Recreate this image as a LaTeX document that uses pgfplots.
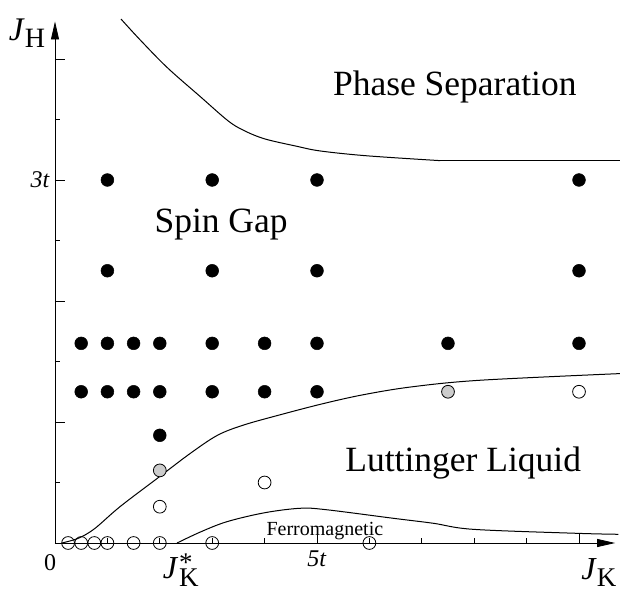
\documentclass[border=0pt]{standalone}
\usepackage{pgfplots}
\pgfplotsset{compat=1.18}
\usepackage{fontspec}
\setmainfont{Liberation Serif}
\usetikzlibrary{arrows.meta}
\begin{document}
\begin{tikzpicture}
\begin{axis}[
  at={(0,0)}, anchor=south west,
  x=52.4pt, y=121pt,
  xmin=0, xmax=10.69, ymin=0, ymax=4.31,
  axis lines=left,
  axis line style={line width=0.8pt},
  x axis line style={-{Triangle[length=18pt,width=8pt]}},
  y axis line style={-{Triangle[length=18pt,width=8pt]}},
  clip=false,
  xtick={5,10}, minor xtick={1,2,3,4,6,7,8,9},
  ytick={1,2,3,4}, minor ytick={0.5,1.5,2.5,3.5},
  xticklabels={\textit{5t},{}},
  yticklabels={{},{},\textit{3t},{}},
  tick align=inside,
  major tick length=10pt, minor tick length=5pt,
  tick style={black, line width=0.8pt},
  minor tick style={black, line width=0.8pt},
  tick label style={font=\fontsize{24}{28}\selectfont},
  xticklabel style={yshift=-4pt},
  yticklabel style={inner sep=0pt, xshift=-5pt},
]
% boundaries
\addplot[black, line width=1pt, smooth, tension=0.55] coordinates {
 (1.26,4.33) (1.62,4.16) (2.14,3.93) (2.77,3.69) (3.3,3.49) (3.6,3.41)
 (4.0,3.34) (4.6,3.28) (5.06,3.24) (5.95,3.20) (7.35,3.16)};
\addplot[black, line width=1pt] coordinates {(7.35,3.16) (10.78,3.16)};
\addplot[black, line width=1pt, smooth, tension=0.55] coordinates {
 (0.13,0) (0.45,0.04) (0.76,0.12) (1.24,0.30) (2.0,0.55) (2.58,0.74) (3.1,0.89)
 (3.6,0.975) (4.3,1.06) (5.1,1.15) (5.88,1.225) (6.8,1.29) (8.11,1.345) (10.78,1.40)};
\addplot[black, line width=1pt, smooth, tension=0.55] coordinates {
 (2.33,0) (2.77,0.09) (3.28,0.176) (4.0,0.25) (4.68,0.287) (5.18,0.275) (6.46,0.204)
 (7.22,0.163) (7.98,0.113) (9.96,0.08) (10.75,0.072)};
% spin gap points
\addplot[only marks, mark=*, mark size=6.4pt, mark options={fill=black, draw=black, line width=0.5pt}] coordinates {
 (0.5,1.25) (1,1.25) (1.5,1.25) (2,1.25) (3,1.25) (4,1.25) (5,1.25)
 (0.5,1.65) (1,1.65) (1.5,1.65) (2,1.65) (3,1.65) (4,1.65) (5,1.65) (7.5,1.65) (10,1.65)
 (1,2.25) (3,2.25) (5,2.25) (10,2.25)
 (1,3) (3,3) (5,3) (10,3)
 (2,0.89)};
% borderline points
\addplot[only marks, mark=*, mark size=6.4pt, mark options={fill=black!20, draw=black, line width=0.8pt}] coordinates {
 (2,0.60) (7.5,1.25)};
% Luttinger liquid / ferromagnetic points
\addplot[only marks, mark=o, mark size=6.4pt, mark options={draw=black, line width=0.8pt}] coordinates {
 (2,0.30) (4,0.50) (10,1.25)
 (0.25,0) (0.5,0) (0.75,0) (1,0) (1.5,0) (2,0) (3,0) (6,0)};
% labels
\node[anchor=base, font=\fontsize{35.5}{40}\selectfont] at (axis cs:7.63,3.70) {Phase Separation};
\node[anchor=base, font=\fontsize{35.5}{40}\selectfont] at (axis cs:3.17,2.562) {Spin Gap};
\node[anchor=base, font=\fontsize{35.5}{40}\selectfont] at (axis cs:7.79,0.595) {Luttinger Liquid};
\node[anchor=base, font=\fontsize{20}{24}\selectfont] at (axis cs:5.15,0.066) {Ferromagnetic};
\node[font=\fontsize{24}{28}\selectfont] at (axis cs:-0.095,-0.165) {0};
\node[font=\fontsize{33}{36}\selectfont] at (axis cs:-0.534,4.215) {\textit{J}\raisebox{-7pt}{\fontsize{28}{30}\selectfont H}};
\node[font=\fontsize{32}{36}\selectfont, inner sep=0pt] at (axis cs:10.38,-0.24) {\textit{J}\raisebox{-7pt}{\fontsize{27}{30}\selectfont K}};
\node[font=\fontsize{32}{36}\selectfont, inner sep=0pt] at (axis cs:2.40,-0.225) {\textit{J}\hspace{1pt}\raisebox{-8pt}{\fontsize{27}{30}\selectfont\shortstack[l]{*\\[-6pt]K}}};
\end{axis}
\pgfresetboundingbox
\path[use as bounding box] (-55pt,-48pt) rectangle (568pt,543pt);
\end{tikzpicture}
\end{document}
